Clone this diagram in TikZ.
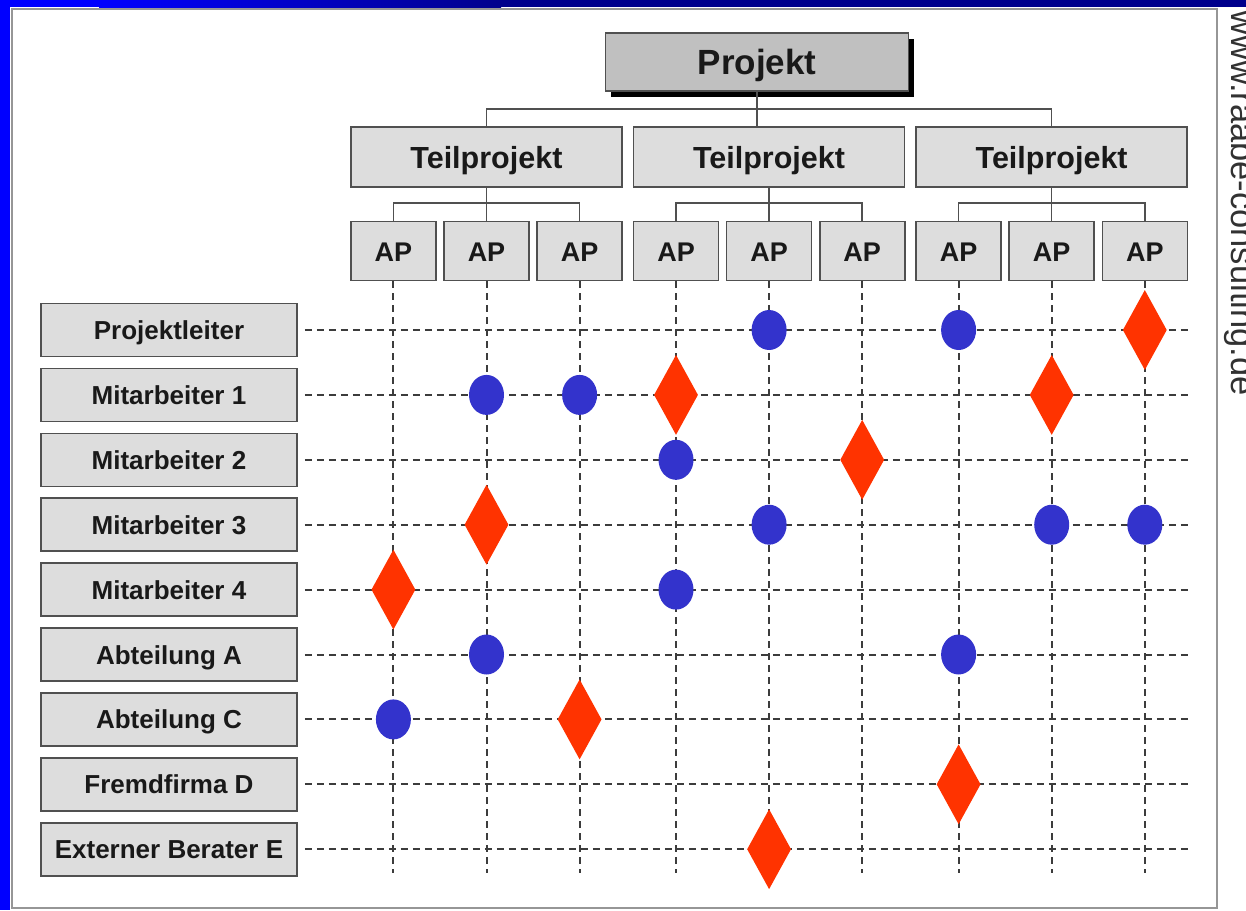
\documentclass[tikz,border=0pt]{standalone}
\usepackage{fontspec}
\setmainfont{Liberation Sans}
\usetikzlibrary{positioning,shapes.geometric,shadows}

\definecolor{boxgray}{RGB}{221,221,221}
\definecolor{topgray}{RGB}{192,192,192}
\definecolor{linegray}{RGB}{80,80,80}
\definecolor{dashgray}{RGB}{60,60,60}
\definecolor{dotblue}{RGB}{51,51,204}
\definecolor{rhombred}{RGB}{255,51,0}
\definecolor{textblack}{RGB}{25,25,25}
\definecolor{leftblue}{RGB}{0,0,255}
\definecolor{topnavy}{RGB}{0,0,140}
\definecolor{framegray}{RGB}{150,150,150}
\definecolor{urlgray}{RGB}{50,50,50}

\begin{document}
\begin{tikzpicture}[x=1pt,y=-1pt,
    box/.style={draw=linegray,line width=1.6pt,fill=boxgray,inner sep=0pt,text=textblack},
    rowbox/.style={box,minimum width=256pt,minimum height=53pt,text height=19pt,text depth=0pt,font=\fontsize{26}{28}\selectfont\bfseries},
    apbox/.style={box,minimum width=85pt,minimum height=59pt,text height=20pt,text depth=0pt,font=\fontsize{27}{29}\selectfont\bfseries},
    tpbox/.style={box,minimum width=271pt,minimum height=60pt,text height=22pt,text depth=0pt,font=\fontsize{30.5}{33}\selectfont\bfseries},
    topbox/.style={box,fill=topgray,minimum width=303pt,minimum height=58pt,text height=25pt,text depth=0pt,font=\fontsize{35}{38}\selectfont\bfseries,drop shadow={shadow xshift=5pt,shadow yshift=-6pt,fill=black,opacity=1}},
    link/.style={draw=linegray,line width=1.6pt},
    grid/.style={draw=dashgray,line width=2pt,dash pattern=on 7pt off 5pt},
    dot/.style={ellipse,fill=dotblue,minimum width=35pt,minimum height=40pt,inner sep=0pt},
    rhomb/.style={diamond,fill=rhombred,minimum width=44pt,minimum height=80pt,inner sep=0pt}
    ]

    \useasboundingbox (0,0) rectangle (1246,910);
    \clip (0,0) rectangle (1246,910);

    % frame
    \fill[white] (0,0) rectangle (1246,910);
    \fill[leftblue] (0,0) rectangle (10,910);
    \fill[leftblue] (0,0) rectangle (100,7);
    \shade[left color=leftblue,right color=topnavy] (99,0) rectangle (501,7);
    \fill[topnavy] (500,0) rectangle (1246,7);
    \draw[framegray,line width=2.5pt] (12,9) rectangle (1217,908);

    \node(url) [rotate=-90,anchor=base west,inner sep=0pt,text=urlgray,font=\fontsize{34.5}{36}\selectfont] at (1231,10) {www.raabe-consulting.de};

    % tree
    \node(pj) [topbox] at (757,62) {Projekt};

    \node(tp2) [tpbox] at (769,157) {Teilprojekt};
    \node(tp1) [tpbox,left=10pt of tp2] {Teilprojekt};
    \node(tp3) [tpbox,right=10pt of tp2] {Teilprojekt};

    \node(ap1) [apbox,below right=33pt and 0pt of tp1.south west] {AP};
    \node(ap2) [apbox,right=6.5pt of ap1] {AP};
    \node(ap3) [apbox,right=6.5pt of ap2] {AP};
    \node(ap4) [apbox,below right=33pt and 0pt of tp2.south west] {AP};
    \node(ap5) [apbox,right=6.5pt of ap4] {AP};
    \node(ap6) [apbox,right=6.5pt of ap5] {AP};
    \node(ap7) [apbox,below right=33pt and 0pt of tp3.south west] {AP};
    \node(ap8) [apbox,right=6.5pt of ap7] {AP};
    \node(ap9) [apbox,right=6.5pt of ap8] {AP};

    \coordinate (pbus) at (757,109);
    \draw[link] (pj.south) -- (pj.south |- tp2.north);
    \draw[link] (tp1.north) |- (pbus) -| (tp3.north);

    \foreach \t/\a/\b in {1/1/3,2/4/6,3/7/9} {
        \draw[link] (ap\a.north) -- ++(0,-18) -| (ap\b.north);
        \draw[link] (tp\t.south) -- (tp\t.south |- ap\a.north);
    }

    % rows
    \node(r1) [rowbox] at (169,330) {Projektleiter};
    \node(r2) [rowbox,below=10.3pt of r1] {Mitarbeiter 1};
    \node(r3) [rowbox,below=10.3pt of r2] {Mitarbeiter 2};
    \node(r4) [rowbox,below=10.3pt of r3] {Mitarbeiter 3};
    \node(r5) [rowbox,below=10.3pt of r4] {Mitarbeiter 4};
    \node(r6) [rowbox,below=10.3pt of r5] {Abteilung A};
    \node(r7) [rowbox,below=10.3pt of r6] {Abteilung C};
    \node(r8) [rowbox,below=10.3pt of r7] {Fremdfirma D};
    \node(r9) [rowbox,below=10.3pt of r8] {Externer Berater E};

    % grid
    \coordinate (gridend) at (1190,873);
    \foreach \c in {1,...,9}
        \draw[grid] (ap\c.south) -- (ap\c.south |- gridend);
    \foreach \r in {1,...,9}
        \draw[grid,shorten <=7pt] (r\r.east) -- (r\r.east -| gridend);

    % assignments
    \foreach \c/\r in {5/1,7/1,2/2,3/2,4/3,5/4,8/4,9/4,4/5,2/6,7/6,1/7}
        \node(dot\c\r) [dot] at (ap\c |- r\r) {};
    \foreach \c/\r in {9/1,4/2,8/2,6/3,2/4,1/5,3/7,7/8,5/9}
        \node(rh\c\r) [rhomb] at (ap\c |- r\r) {};

\end{tikzpicture}
\end{document}
